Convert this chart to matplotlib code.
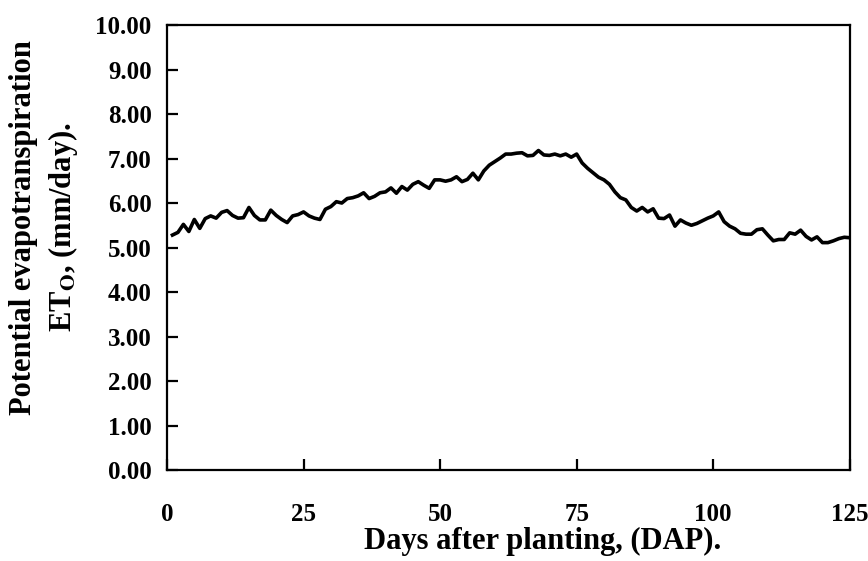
import numpy as np
import matplotlib
matplotlib.use("Agg")
import matplotlib.pyplot as plt

# -----------------------------
# Data
# -----------------------------
days = np.arange(1, 126)

et0 = [
    5.28, 5.34, 5.52, 5.36, 5.63, 5.43, 5.65, 5.71, 5.66, 5.79,
    5.83, 5.72, 5.66, 5.67, 5.90, 5.72, 5.62, 5.62, 5.84, 5.72,
    5.63, 5.56, 5.71, 5.74, 5.80, 5.71, 5.66, 5.63, 5.86, 5.92,
    6.03, 6.00, 6.10, 6.12, 6.16, 6.23, 6.10, 6.15, 6.23, 6.25,
    6.34, 6.22, 6.37, 6.29, 6.42, 6.48, 6.40, 6.33, 6.52, 6.52,
    6.49, 6.52, 6.59, 6.48, 6.53, 6.67, 6.52, 6.72, 6.85, 6.93,
    7.01, 7.10, 7.10, 7.12, 7.13, 7.06, 7.07, 7.18, 7.08, 7.07,
    7.10, 7.06, 7.10, 7.03, 7.10, 6.90, 6.78, 6.68, 6.58, 6.52,
    6.42, 6.25, 6.12, 6.07, 5.90, 5.82, 5.90, 5.80, 5.87, 5.66,
    5.65, 5.73, 5.48, 5.62, 5.55, 5.50, 5.54, 5.60, 5.66, 5.71,
    5.80, 5.58, 5.48, 5.42, 5.32, 5.30, 5.30, 5.40, 5.42, 5.28,
    5.15, 5.18, 5.18, 5.33, 5.30, 5.39, 5.25, 5.17, 5.24, 5.11,
    5.11, 5.15, 5.20, 5.23, 5.22,
]

x_ticks = [0, 25, 50, 75, 100, 125]
y_ticks = np.arange(0, 11, 1)

# -----------------------------
# Style
# -----------------------------
plt.rcParams["font.family"] = "Liberation Serif"
plt.rcParams["font.weight"] = "bold"
plt.rcParams["mathtext.fontset"] = "stix"

fig = plt.figure(figsize=(8.68, 5.61), dpi=100)
ax = fig.add_axes([0.1924, 0.1622, 0.7866, 0.7932])

ax.plot(days, et0, color="black", linewidth=2.6)

ax.set_xlim(0, 125)
ax.set_ylim(0, 10)
ax.set_xticks(x_ticks)
ax.set_yticks(y_ticks)
ax.set_yticklabels([f"{v:.2f}" for v in y_ticks])

for s in ax.spines.values():
    s.set_linewidth(1.6)

ax.tick_params(axis="both", direction="in", length=8, width=1.6,
               labelsize=18)
ax.tick_params(axis="x", pad=24)
ax.tick_params(axis="y", pad=11)

# -----------------------------
# Axis titles
# -----------------------------
fig.text(0.6256, 0.034, "Days after planting, (DAP).", fontsize=22,
         fontweight="bold", ha="center", va="center")
fig.text(0.051, 0.595,
         "Potential evapotranspiration\n"
         r"ET$_\mathbf{O}$, (mm/day).",
         fontsize=22, fontweight="bold", rotation=90,
         ha="center", va="center", multialignment="center",
         linespacing=1.3)

fig.savefig("out.png", dpi=100)
